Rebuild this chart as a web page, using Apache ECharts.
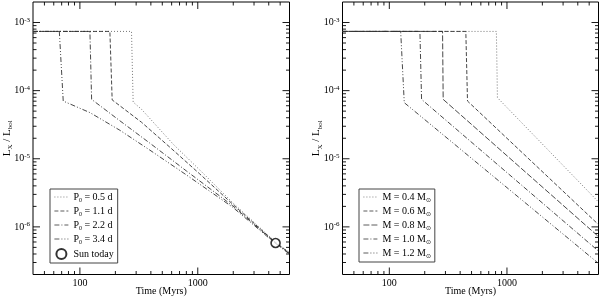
<!DOCTYPE html>
<html><head><meta charset="utf-8">
<script src="https://cdn.jsdelivr.net/npm/echarts@6/dist/echarts.min.js"></script>
<style>html,body{margin:0;padding:0;background:#fff}#c{width:600px;height:299px}</style>
</head><body><div id="c"></div>
<script>
// ---- data (Time in Myr, Lx/Lbol) ----
const p05_t = [40, 274, 283, 333.4, 617.6, 1040, 1980, 4520, 6000];
const p05_v = [7.4e-4, 7.4e-4, 6.79e-5, 5.32e-5, 1.64e-5, 6.84e-6, 2.26e-6, 6.08e-7, 4.20e-7];
const p11_t = [40, 179.6, 187.8, 333.4, 579, 1040, 1980, 4520, 6000];
const p11_v = [7.4e-4, 7.4e-4, 7.31e-5, 3.43e-5, 1.48e-5, 5.98e-6, 2.15e-6, 5.98e-7, 4.13e-7];
const p22_t = [40, 121.6, 125.7, 218.3, 392, 802, 1980, 4520, 6000];
const p22_v = [7.4e-4, 7.4e-4, 7.44e-5, 3.61e-5, 1.695e-5, 6.61e-6, 2.04e-6, 5.88e-7, 4.06e-7];
const p34_t = [40, 66.9, 72.2, 121.6, 218.3, 392, 802, 1980, 4520, 6000];
const p34_v = [7.4e-4, 7.4e-4, 7.03e-5, 4.76e-5, 2.62e-5, 1.34e-5, 5.78e-6, 1.94e-6, 5.78e-7, 3.99e-7];
const sun_t = [4570];
const sun_v = [5.8e-7];

const m04_t = [40, 813, 830, 6000];
const m04_v = [7.4e-4, 7.4e-4, 7.88e-5, 2.32e-6];
const m06_t = [40, 447, 462, 6000];
const m06_v = [7.4e-4, 7.4e-4, 7.03e-5, 1.08e-6];
const m08_t = [40, 283.5, 287, 6000];
const m08_v = [7.4e-4, 7.4e-4, 7.44e-5, 7.2e-7];
const m10_t = [40, 182, 188, 6000];
const m10_v = [7.4e-4, 7.4e-4, 7.44e-5, 4.41e-7];
const m12_t = [40, 124.9, 134, 6000];
const m12_v = [7.4e-4, 7.4e-4, 6.66e-5, 2.91e-7];

const leftNames = ['P0 = 0.5 d', 'P0 = 1.1 d', 'P0 = 2.2 d', 'P0 = 3.4 d', 'Sun today'];
const rightNames = ['M = 0.4 Msun', 'M = 0.6 Msun', 'M = 0.8 Msun', 'M = 1.0 Msun', 'M = 1.2 Msun'];

const xMajorTicks = [100, 1000];
const xMinorTicks = [50, 60, 70, 80, 90, 200, 300, 400, 500, 600, 700, 800, 900, 2000, 3000, 4000, 5000];
const yMajorTicks = [1e-6, 1e-5, 1e-4, 1e-3];
const yMinorTicks = [];
[-7, -6, -5, -4, -3].forEach(e => { for (let k = 2; k <= 9; k++) { const v = k * Math.pow(10, e); if (v > 2.01e-7 && v < 1.99e-3) yMinorTicks.push(v); } });

// ---- chart ----
const FONT = 'Liberation Serif';
const zip = (a, b) => a.map((x, i) => [x, b[i]]);

const DOT = [1, 2], DASH = [4, 2], LDASH = [6, 2], DASHDOT = [5, 2, 1, 2], DASHDOTDOT = [5, 2, 1, 2, 1, 2];

function lineSeries(name, t, v, idx, dash, color) {
  return {
    type: 'line', name, xAxisIndex: idx, yAxisIndex: idx, data: zip(t, v),
    symbol: 'none', silent: true, animation: false,
    lineStyle: { color, width: 0.9, type: dash }, itemStyle: { color }
  };
}

function tickData() {
  const d = [];
  xMinorTicks.forEach(t => d.push([t, 1e-5, 0]));
  xMajorTicks.forEach(t => d.push([t, 1e-5, 1]));
  yMinorTicks.forEach(v => d.push([100, v, 2]));
  yMajorTicks.forEach(v => d.push([100, v, 3]));
  return d;
}
function tickSeries(idx) {
  return {
    type: 'custom', xAxisIndex: idx, yAxisIndex: idx, silent: true, clip: false, animation: false,
    data: tickData(),
    renderItem(params, api) {
      const cs = params.coordSys;
      const kind = api.value(2);
      const st = { stroke: '#000', lineWidth: 0.9 };
      if (kind < 2) {
        const px = api.coord([api.value(0), 1e-5])[0];
        const len = kind === 1 ? 7 : 3.5;
        return { type: 'group', children: [
          { type: 'line', shape: { x1: px, y1: cs.y, x2: px, y2: cs.y + len }, style: st },
          { type: 'line', shape: { x1: px, y1: cs.y + cs.height, x2: px, y2: cs.y + cs.height - len }, style: st }
        ] };
      } else {
        const py = api.coord([100, api.value(1)])[1];
        const len = kind === 3 ? 7 : 3.5;
        return { type: 'group', children: [
          { type: 'line', shape: { x1: cs.x, y1: py, x2: cs.x + len, y2: py }, style: st },
          { type: 'line', shape: { x1: cs.x + cs.width, y1: py, x2: cs.x + cs.width - len, y2: py }, style: st }
        ] };
      }
    }
  };
}

function xAxis(gi) {
  return {
    type: 'log', gridIndex: gi, min: 40, max: 6000, logBase: 10,
    axisLine: { show: false }, axisTick: { show: false }, splitLine: { show: false },
    axisLabel: {
      fontFamily: FONT, fontSize: 10, color: '#000', margin: 4,
      formatter: v => { const e = Math.log10(v); return Math.abs(e - Math.round(e)) < 1e-6 ? String(Math.round(v)) : ''; }
    },
    name: 'Time (Myrs)', nameLocation: 'middle', nameGap: 12, nameMoveOverlap: false,
    nameTextStyle: { fontFamily: FONT, fontSize: 10, color: '#000' }
  };
}
function yAxis(gi) {
  return {
    type: 'log', gridIndex: gi, min: 2e-7, max: 2e-3, logBase: 10,
    axisLine: { show: false }, axisTick: { show: false }, splitLine: { show: false },
    axisLabel: {
      fontFamily: FONT, color: '#000', margin: 3,
      formatter: v => { const e = Math.log10(v); if (Math.abs(e - Math.round(e)) > 1e-6) return ''; return '{b|10}{s|' + Math.round(e) + '}'; },
      rich: {
        b: { fontFamily: FONT, fontSize: 10, lineHeight: 12, color: '#000' },
        s: { fontFamily: FONT, fontSize: 7, lineHeight: 8, verticalAlign: 'top', color: '#000' }
      }
    },
    name: '{l|L}{s|X}{l| / L}{s|bol}', nameLocation: 'middle', nameGap: 19, nameRotate: 90, nameMoveOverlap: false,
    nameTextStyle: {
      rich: {
        l: { fontFamily: FONT, fontSize: 11, lineHeight: 14, color: '#000' },
        s: { fontFamily: FONT, fontSize: 7, lineHeight: 8, verticalAlign: 'bottom', color: '#000' }
      }
    }
  };
}

const legendRich = {
  n: { fontFamily: FONT, fontSize: 10, lineHeight: 12, color: '#000' },
  s: { fontFamily: FONT, fontSize: 6, lineHeight: 7, verticalAlign: 'bottom', color: '#000' }
};
function legendData(names, lineCount) {
  return names.map((n, i) => i < lineCount ? { name: n, itemStyle: { opacity: 0 } } : { name: n });
}
function legend(left, names, lineCount, fmt) {
  return {
    left, top: 189, orient: 'vertical', data: legendData(names, lineCount),
    itemWidth: 14, itemHeight: 10, itemGap: 3, padding: [3, 4, 3, 4],
    borderColor: '#444', borderWidth: 1, backgroundColor: '#fff',
    selectedMode: false, inactiveColor: '#000',
    lineStyle: { width: 0.8 },
    textStyle: { fontFamily: FONT, fontSize: 10, color: '#000', rich: legendRich },
    formatter: fmt
  };
}

const option = {
  animation: false,
  backgroundColor: '#fff',
  grid: [
    { left: 33, top: 2, width: 256.5, height: 272.5, show: true, borderColor: '#000', borderWidth: 1, outerBoundsMode: 'none' },
    { left: 342.5, top: 2, width: 256, height: 272.5, show: true, borderColor: '#000', borderWidth: 1, outerBoundsMode: 'none' }
  ],
  xAxis: [xAxis(0), xAxis(1)],
  yAxis: [yAxis(0), yAxis(1)],
  legend: [
    legend(50, leftNames, 4, n => n.startsWith('P0') ? '{n|P}{s|0}{n|' + n.slice(2) + '}' : '{n|' + n + '}'),
    legend(359, rightNames, 5, n => '{n|' + n.replace(' Msun', ' M') + '}{s|⊙}')
  ],
  series: [
    lineSeries(leftNames[0], p05_t, p05_v, 0, DOT, '#666'),
    lineSeries(leftNames[1], p11_t, p11_v, 0, DASH, '#333'),
    lineSeries(leftNames[2], p22_t, p22_v, 0, DASHDOT, '#333'),
    lineSeries(leftNames[3], p34_t, p34_v, 0, DASHDOTDOT, '#333'),
    {
      type: 'scatter', name: leftNames[4], xAxisIndex: 0, yAxisIndex: 0, data: zip(sun_t, sun_v),
      symbol: 'circle', symbolSize: 9, silent: true, z: 5,
      itemStyle: { color: '#fff', borderColor: '#000', borderWidth: 1.6 }
    },
    lineSeries(rightNames[0], m04_t, m04_v, 1, DOT, '#666'),
    lineSeries(rightNames[1], m06_t, m06_v, 1, DASH, '#333'),
    lineSeries(rightNames[2], m08_t, m08_v, 1, LDASH, '#333'),
    lineSeries(rightNames[3], m10_t, m10_v, 1, DASHDOT, '#333'),
    lineSeries(rightNames[4], m12_t, m12_v, 1, DASHDOTDOT, '#333'),
    tickSeries(0),
    tickSeries(1)
  ]
};
const chart = echarts.init(document.getElementById('c'), null, { renderer: 'canvas' });
chart.setOption(option);
</script>
</body></html>
